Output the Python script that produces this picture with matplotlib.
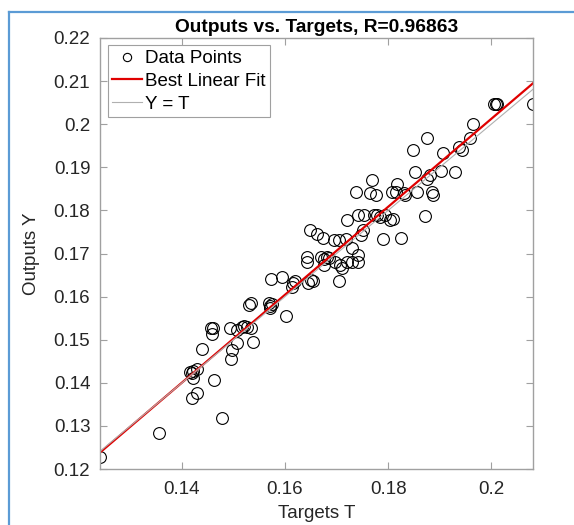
import numpy as np
import matplotlib.pyplot as plt
from matplotlib.lines import Line2D
from matplotlib.ticker import FuncFormatter

plt.rcParams['font.family'] = ['Liberation Sans', 'DejaVu Sans']

# targets (T) and network outputs (Y)
targets = [0.1241, 0.1356, 0.1478, 0.1420, 0.1430, 0.1463, 0.1422, 0.1419, 0.1416, 0.1421,
           0.1430, 0.1439, 0.1495, 0.1497, 0.1506, 0.1456, 0.1461, 0.1459, 0.1493, 0.1507,
           0.1516, 0.1520, 0.1526, 0.1534, 0.1538, 0.1531, 0.1534, 0.1568, 0.1571, 0.1574,
           0.1570, 0.1601, 0.1572, 0.1594, 0.1613, 0.1616, 0.1619, 0.1645, 0.1650, 0.1654,
           0.1642, 0.1642, 0.1669, 0.1676, 0.1681, 0.1676, 0.1649, 0.1661, 0.1674, 0.1704,
           0.1697, 0.1707, 0.1710, 0.1720, 0.1729, 0.1742, 0.1742, 0.1729, 0.1748, 0.1751,
           0.1790, 0.1825, 0.1694, 0.1704, 0.1718, 0.1720, 0.1742, 0.1753, 0.1773, 0.1778,
           0.1784, 0.1794, 0.1804, 0.1737, 0.1765, 0.1776, 0.1769, 0.1807, 0.1816, 0.1817,
           0.1830, 0.1832, 0.1852, 0.1856, 0.1810, 0.1872, 0.1886, 0.1887, 0.1875, 0.1882,
           0.1903, 0.1929, 0.1848, 0.1876, 0.1907, 0.1937, 0.1943, 0.1958, 0.1964, 0.2006,
           0.2009, 0.2011, 0.2081, 0.1686]
outputs = [0.1229, 0.1284, 0.1318, 0.1365, 0.1376, 0.1406, 0.1410, 0.1423, 0.1426, 0.1427,
           0.1431, 0.1478, 0.1455, 0.1476, 0.1492, 0.1527, 0.1527, 0.1514, 0.1526, 0.1523,
           0.1530, 0.1532, 0.1529, 0.1526, 0.1495, 0.1581, 0.1584, 0.1584, 0.1578, 0.1583,
           0.1573, 0.1556, 0.1640, 0.1645, 0.1623, 0.1631, 0.1637, 0.1631, 0.1639, 0.1637,
           0.1691, 0.1680, 0.1691, 0.1687, 0.1693, 0.1673, 0.1755, 0.1745, 0.1735, 0.1636,
           0.1681, 0.1673, 0.1666, 0.1681, 0.1681, 0.1697, 0.1680, 0.1712, 0.1743, 0.1755,
           0.1734, 0.1735, 0.1731, 0.1731, 0.1733, 0.1778, 0.1789, 0.1789, 0.1789, 0.1789,
           0.1785, 0.1789, 0.1778, 0.1842, 0.1840, 0.1836, 0.1871, 0.1842, 0.1842, 0.1861,
           0.1840, 0.1836, 0.1888, 0.1842, 0.1779, 0.1788, 0.1842, 0.1836, 0.1872, 0.1882,
           0.1891, 0.1890, 0.1939, 0.1969, 0.1934, 0.1948, 0.1939, 0.1967, 0.2000, 0.2047,
           0.2046, 0.2048, 0.2047, 0.1690]
r_value = 0.96863

T = np.array(targets)
Y = np.array(outputs)
#best linear fit through the points, like matlab's plotregression
slope, intercept = np.polyfit(T, Y, 1)

fig = plt.figure(figsize=(5.74, 5.25), dpi=100)
ax = fig.add_axes([100/574, 1-469/525, 433/574, 431/525])

xs = np.array([T.min(), T.max()])
ax.plot(T, Y, 'o', mfc='none', mec='black', ms=8.5, mew=0.8, label='Data Points')
ax.plot(xs, slope*xs + intercept, color='#e00000', lw=1.6, label='Best Linear Fit')
ax.plot(xs, xs, color='#b0b0b0', lw=0.8, label='Y = T')

ax.set_xlim(xs[0], xs[1])
ax.set_ylim(0.12, 0.22)
ax.set_xticks([0.14, 0.16, 0.18, 0.2])
ax.set_yticks(np.arange(0.12, 0.2201, 0.01))
fmt = FuncFormatter(lambda v, p: '%g' % round(v, 4))
ax.xaxis.set_major_formatter(fmt)
ax.yaxis.set_major_formatter(fmt)
ax.tick_params(direction='in', length=5, width=0.8, color='#a0a0a0', labelcolor='#262626',
               labelsize=13.5, top=True, right=True)
ax.tick_params(axis='x', pad=9)
ax.tick_params(axis='y', pad=7)
for s in ax.spines.values():
    s.set_color('#a0a0a0')
    s.set_linewidth(1.0)

ax.set_title('Outputs vs. Targets, R=%.5f' % r_value, fontsize=13.8, fontweight='bold', pad=4)
ax.set_xlabel('Targets T', fontsize=13.5, color='#262626', labelpad=5)
ax.set_ylabel('Outputs Y', fontsize=13.5, color='#262626', labelpad=10)

leg = ax.legend(loc='upper left', fontsize=13.5, handlelength=1.6, handletextpad=0.15,
                labelspacing=0.3, borderpad=0.25, borderaxespad=0.4, fancybox=False,
                edgecolor='#a0a0a0', framealpha=1, markerscale=0.7)
leg.get_frame().set_linewidth(0.8)

# blue panel frame of the screenshot
fig.add_artist(Line2D([9/574, 9/574], [0, 1-11.5/525], color='#5b9bd5', lw=1.6))
fig.add_artist(Line2D([9/574, 1], [1-11.5/525, 1-11.5/525], color='#5b9bd5', lw=1.6))

fig.savefig('out.png', dpi=100)
